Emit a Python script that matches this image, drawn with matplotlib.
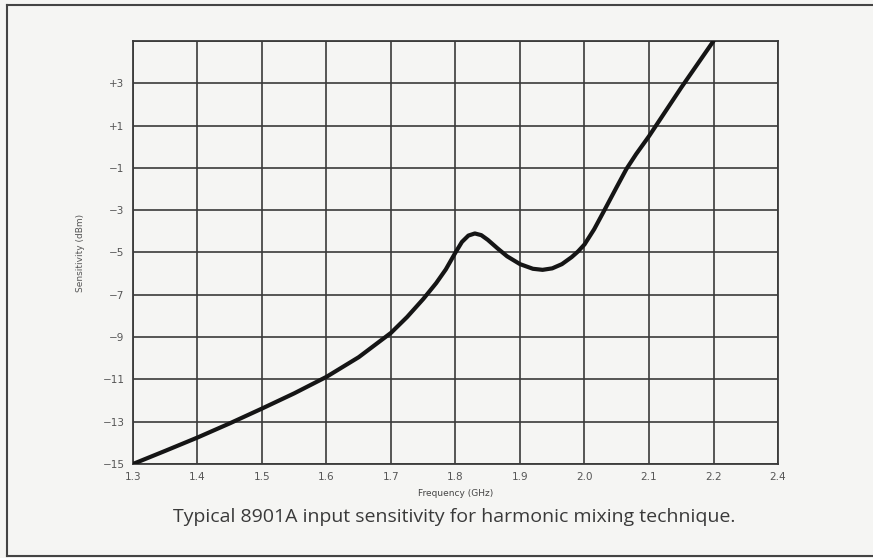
import matplotlib
matplotlib.use("Agg")
import matplotlib.pyplot as plt
from matplotlib.lines import Line2D

# frequency (GHz) vs typical sensitivity (dBm)
freq = [1.30, 1.35, 1.40, 1.45, 1.50, 1.55, 1.60, 1.65, 1.70, 1.725, 1.75,
        1.77, 1.785, 1.80, 1.81, 1.82, 1.83, 1.84, 1.85, 1.865, 1.88,
        1.90, 1.92, 1.935, 1.95, 1.965, 1.98, 1.99, 2.00, 2.015, 2.03,
        2.05, 2.065, 2.08, 2.10, 2.125, 2.15, 2.175, 2.20]
sens = [-15.0, -14.38, -13.75, -13.08, -12.38, -11.66, -10.88, -9.95, -8.8, -8.05, -7.2,
        -6.45, -5.8, -5.0, -4.5, -4.2, -4.1, -4.18, -4.4, -4.8, -5.18,
        -5.55, -5.77, -5.82, -5.75, -5.55, -5.22, -4.95, -4.62, -3.9, -3.05,
        -1.9, -1.05, -0.35, 0.5, 1.65, 2.8, 3.9, 5.0]

x_ticks = [1.3, 1.4, 1.5, 1.6, 1.7, 1.8, 1.9, 2.0, 2.1, 2.2, 2.3]
x_labels = ["1.3", "1.4", "1.5", "1.6", "1.7", "1.8", "1.9", "2.0", "2.1", "2.2", "2.4"]
y_ticks = [-15, -13, -11, -9, -7, -5, -3, -1, 1, 3, 5]
y_labels = ["\u221215", "\u221213", "\u221211", "\u22129", "\u22127", "\u22125",
            "\u22123", "\u22121", "+1", "+3", ""]

caption = "Typical 8901A input sensitivity for harmonic mixing technique."

bg = "#f5f5f3"
fig = plt.figure(figsize=(8.73, 5.58), dpi=100, facecolor=bg)
ax = fig.add_axes([0.1523, 0.1685, 0.7389, 0.758])
ax.set_facecolor(bg)

ax.plot(freq, sens, color="#151515", lw=3.0, solid_capstyle="round",
        solid_joinstyle="round", zorder=3)

ax.set_xlim(1.3, 2.3)
ax.set_ylim(-15, 5)
ax.set_xticks(x_ticks)
ax.set_xticklabels(x_labels)
ax.set_yticks(y_ticks)
ax.set_yticklabels(y_labels)
ax.grid(True, color="#3a3a3a", lw=1.2)
ax.tick_params(length=0, labelsize=7.5, labelcolor="#555555", pad=6)
for s in ax.spines.values():
    s.set_color("#3a3a3a")
    s.set_linewidth(1.3)

ax.set_xlabel("Frequency (GHz)", fontsize=6.5, color="#444444", labelpad=5)
ax.set_ylabel("Sensitivity (dBm)", fontsize=6.5, color="#555555", labelpad=13)

fig.text(0.52, 0.073, caption, ha="center", va="center", fontsize=14,
         color="#3a3a3a", family="Open Sans")

# outer frame of the figure (left, top, bottom)
fig.add_artist(Line2D([0.008, 0.008], [0.003, 0.991], color="#444444", lw=1.5))
fig.add_artist(Line2D([0.008, 1.0], [0.991, 0.991], color="#444444", lw=1.5))
fig.add_artist(Line2D([0.008, 1.0], [0.003, 0.003], color="#444444", lw=1.5))

fig.savefig("out.png", dpi=100, facecolor=bg)
